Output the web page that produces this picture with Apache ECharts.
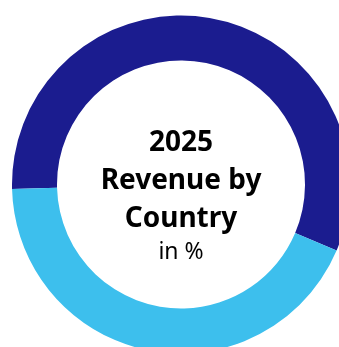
<!DOCTYPE html>
<html>
<head>
<meta charset="utf-8">
<script src="https://cdn.jsdelivr.net/npm/echarts@6/dist/echarts.min.js"></script>
<style>
  html, body { margin: 0; padding: 0; background: #ffffff; }
  #chart { width: 339px; height: 347px; }
</style>
</head>
<body>
<div id="chart"></div>
<script>
// Revenue share by country, 2025 (percent)
const countries = ['Country A', 'Country B'];
const shares = [56.8, 43.2];
const colors = ['#1b1c8f', '#3dbfed'];

const chart = echarts.init(document.getElementById('chart'), null, { renderer: 'canvas' });

chart.setOption({
  animation: false,
  title: {
    text: '{b|2025}\n{b|Revenue by}\n{b|Country}\n{r|in %}',
    left: 181,
    top: 124,
    padding: 0,
    textAlign: 'center',
    textStyle: {
      rich: {
        b: {
          fontFamily: 'Noto Sans',
          fontWeight: 'bold',
          fontSize: 28,
          lineHeight: 38,
          color: '#000000',
          align: 'center'
        },
        r: {
          fontFamily: 'Noto Sans',
          fontWeight: 'normal',
          fontSize: 23,
          lineHeight: 28,
          color: '#000000',
          align: 'center'
        }
      }
    }
  },
  series: [{
    type: 'pie',
    center: [181, 184.5],
    radius: [124, 169],
    startAngle: 181.5,
    clockwise: true,
    label: { show: false },
    labelLine: { show: false },
    emphasis: { disabled: true },
    itemStyle: { borderWidth: 0 },
    data: countries.map((name, i) => ({
      name: name,
      value: shares[i],
      itemStyle: { color: colors[i] }
    }))
  }]
});
</script>
</body>
</html>
